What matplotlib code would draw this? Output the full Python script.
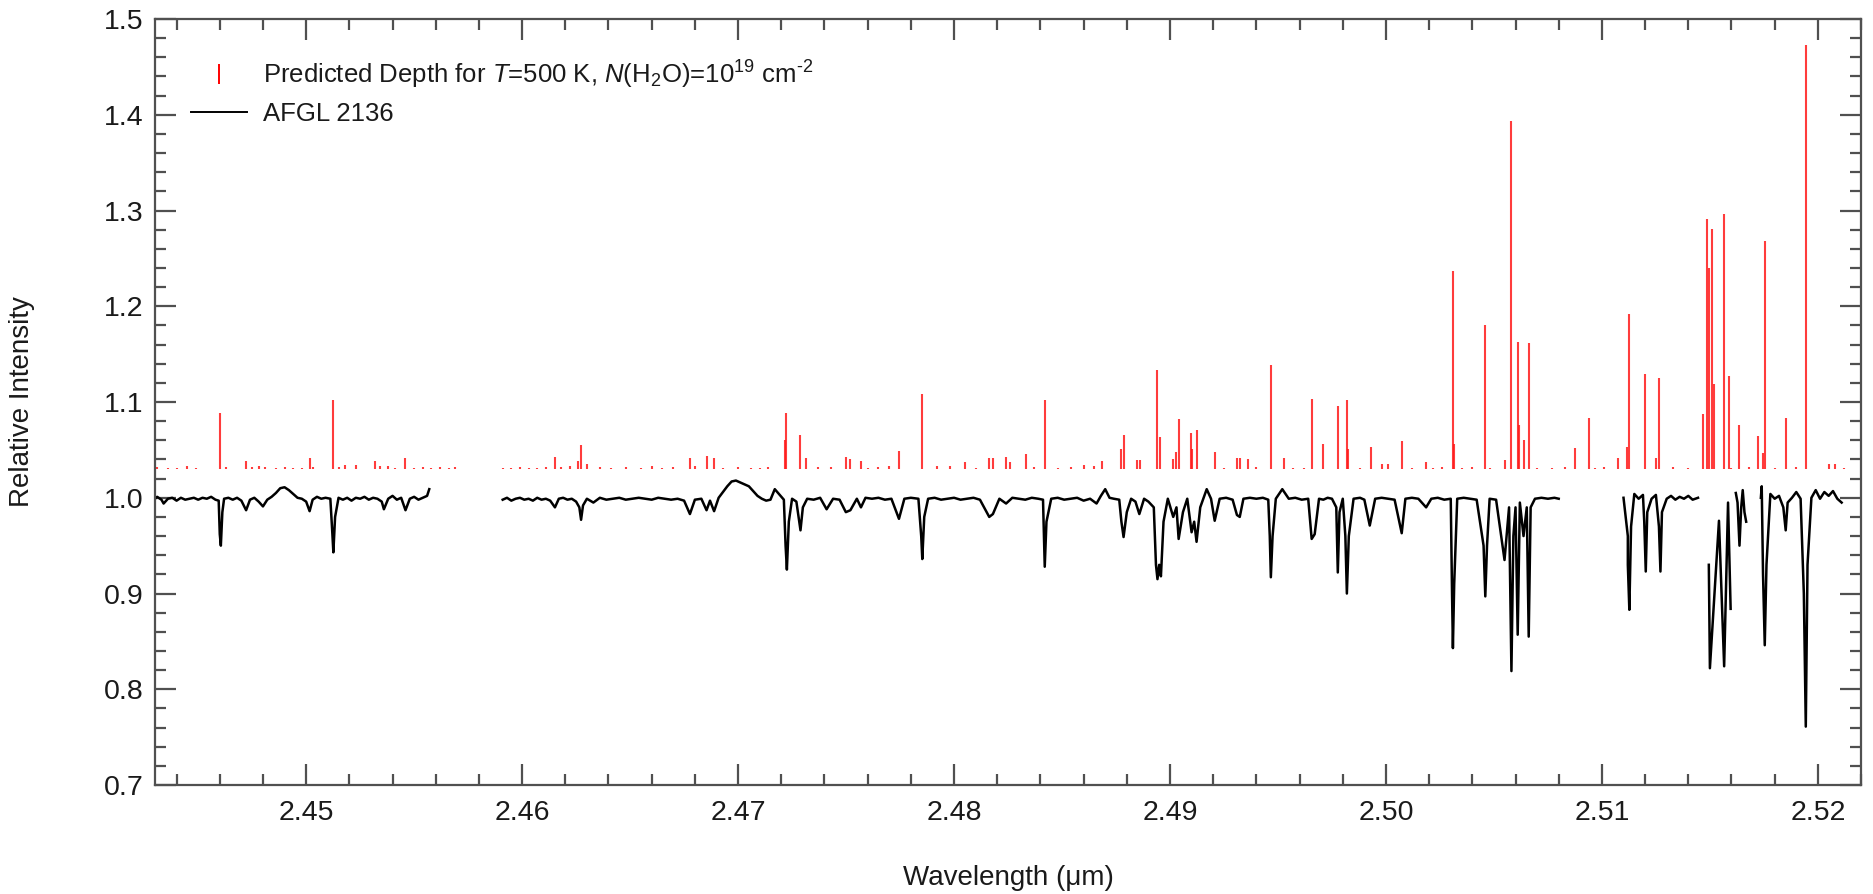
import numpy as np
import matplotlib
matplotlib.use("Agg")
import matplotlib.pyplot as plt
from matplotlib.lines import Line2D
from matplotlib.ticker import MultipleLocator, FormatStrFormatter

plt.rcParams['font.family'] = ['Liberation Sans', 'DejaVu Sans']
plt.rcParams['mathtext.fontset'] = 'custom'
plt.rcParams['mathtext.rm'] = 'Liberation Sans'
plt.rcParams['mathtext.it'] = 'Liberation Sans:italic'

# predicted line positions (um) and top of each red bar (bars start at 1.03)
pred_wl = [2.4431, 2.4436, 2.4440, 2.4445, 2.4449, 2.44603, 2.4463, 2.44722, 2.4475, 2.4478,
           2.4481, 2.4486, 2.4490, 2.4494, 2.4498, 2.45016, 2.4503, 2.45126, 2.4515, 2.45180,
           2.4523, 2.45318, 2.4534, 2.4538, 2.4541, 2.45459, 2.4550, 2.4554, 2.4558, 2.4562,
           2.4566, 2.4569,
           2.4591, 2.4595, 2.4599, 2.4603, 2.4607, 2.4611, 2.46152, 2.4618, 2.4622, 2.46260,
           2.46273, 2.4630, 2.4636, 2.4641, 2.4648, 2.4655, 2.4660, 2.4665, 2.4670, 2.46777,
           2.4680, 2.46854, 2.46889, 2.4693, 2.4700, 2.4706, 2.4710, 2.4714, 2.47215, 2.47220,
           2.47289, 2.47313, 2.4737, 2.4743, 2.47499, 2.4752, 2.47569, 2.4760, 2.4765, 2.4770,
           2.47745, 2.47853, 2.4792, 2.4798, 2.48049, 2.4810, 2.48163, 2.4818, 2.48241, 2.4826,
           2.48334, 2.4837, 2.4842, 2.4848, 2.4854, 2.4860, 2.4865, 2.48683, 2.48775, 2.48785,
           2.48845, 2.4886, 2.48938, 2.48955, 2.49015, 2.4903, 2.4904, 2.4910, 2.49097, 2.49123,
           2.49207, 2.4925, 2.4931, 2.49323, 2.4936, 2.4940, 2.49467, 2.49527, 2.4957, 2.4962,
           2.49656, 2.49708, 2.49777, 2.49819, 2.49825, 2.4988, 2.49929, 2.4998, 2.5001, 2.50073,
           2.5012, 2.50186, 2.5022, 2.5026, 2.5031, 2.50315, 2.5035, 2.5040, 2.5046, 2.5048,
           2.50549, 2.50581, 2.5061, 2.50615, 2.50637, 2.50661, 2.5070, 2.5077, 2.5083, 2.50874,
           2.50939, 2.5097, 2.5101, 2.51074, 2.51116, 2.51125, 2.51201, 2.5125, 2.51265, 2.5133,
           2.5140, 2.51470, 2.51488, 2.51498, 2.51508, 2.51519, 2.51563, 2.51588, 2.5160, 2.51637,
           2.5168, 2.51725, 2.51748, 2.51754, 2.5180, 2.51851, 2.5190, 2.51944, 2.5205, 2.5208,
           2.5212]
pred_top = [1.032, 1.031, 1.031, 1.033, 1.031, 1.089, 1.032, 1.038, 1.032, 1.033,
            1.032, 1.031, 1.032, 1.031, 1.031, 1.042, 1.032, 1.102, 1.032, 1.034,
            1.034, 1.038, 1.033, 1.033, 1.031, 1.042, 1.031, 1.032, 1.031, 1.032,
            1.031, 1.032,
            1.031, 1.031, 1.032, 1.031, 1.031, 1.032, 1.043, 1.032, 1.033, 1.038,
            1.055, 1.035, 1.032, 1.031, 1.032, 1.031, 1.033, 1.031, 1.032, 1.042,
            1.033, 1.044, 1.042, 1.031, 1.032, 1.031, 1.031, 1.032, 1.060, 1.089,
            1.066, 1.042, 1.032, 1.032, 1.043, 1.040, 1.038, 1.031, 1.032, 1.033,
            1.049, 1.108, 1.033, 1.033, 1.037, 1.031, 1.042, 1.042, 1.043, 1.037,
            1.046, 1.032, 1.102, 1.031, 1.032, 1.034, 1.033, 1.038, 1.051, 1.066,
            1.039, 1.039, 1.133, 1.063, 1.041, 1.048, 1.082, 1.051, 1.068, 1.071,
            1.048, 1.031, 1.042, 1.042, 1.040, 1.032, 1.139, 1.042, 1.031, 1.031,
            1.103, 1.056, 1.096, 1.102, 1.051, 1.031, 1.053, 1.035, 1.035, 1.059,
            1.031, 1.037, 1.031, 1.032, 1.237, 1.056, 1.031, 1.032, 1.180, 1.031,
            1.039, 1.394, 1.163, 1.076, 1.060, 1.162, 1.031, 1.031, 1.032, 1.052,
            1.083, 1.031, 1.032, 1.042, 1.053, 1.192, 1.129, 1.042, 1.125, 1.032,
            1.031, 1.088, 1.291, 1.240, 1.281, 1.119, 1.296, 1.127, 1.031, 1.076,
            1.032, 1.065, 1.047, 1.268, 1.031, 1.083, 1.032, 1.473, 1.035, 1.035,
            1.031]
pred_base = 1.03

# AFGL 2136 spectrum, one list pair per continuous stretch
seg1_wl = [2.4430, 2.4431, 2.4433, 2.4434, 2.4436, 2.4438, 2.4440, 2.4442, 2.4444, 2.4446,
           2.4448, 2.4450, 2.4452, 2.4454, 2.4456, 2.4458, 2.44595, 2.44600, 2.44605, 2.44612,
           2.44620, 2.4464, 2.4466, 2.4468, 2.4470, 2.44722, 2.4474, 2.4476, 2.4478, 2.4480,
           2.4482, 2.4484, 2.4486, 2.4488, 2.4490, 2.4492, 2.4494, 2.4496, 2.4498, 2.4500,
           2.45016, 2.4503, 2.4505, 2.4507, 2.4509, 2.45112, 2.45120, 2.45126, 2.45134, 2.4515,
           2.4517, 2.4519, 2.4521, 2.4523, 2.4525, 2.4527, 2.4529, 2.4531, 2.4533, 2.4535,
           2.4536, 2.4538, 2.4540, 2.4542, 2.4544, 2.4546, 2.4548, 2.4550, 2.4552, 2.4554,
           2.4556, 2.4557]
seg1_fl = [0.999, 1.001, 0.998, 0.994, 0.999, 1.000, 0.997, 1.000, 0.998, 0.999,
           1.000, 0.998, 1.000, 0.999, 1.001, 0.998, 0.997, 0.962, 0.950, 0.985,
           0.999, 1.000, 0.998, 1.000, 0.997, 0.987, 0.998, 1.000, 0.996, 0.991,
           0.998, 1.001, 1.005, 1.010, 1.011, 1.008, 1.004, 1.000, 0.999, 0.996,
           0.986, 0.998, 1.001, 0.999, 1.000, 0.999, 0.968, 0.943, 0.980, 1.000,
           0.998, 1.000, 0.997, 1.000, 0.999, 1.001, 0.998, 1.000, 0.999, 0.996,
           0.988, 0.999, 1.002, 0.998, 1.000, 0.987, 0.999, 1.001, 0.998, 1.000,
           1.002, 1.009]

seg2_wl = [2.4591, 2.4593, 2.4595, 2.4597, 2.4599, 2.4601, 2.4603, 2.4605, 2.4607, 2.4609,
           2.4611, 2.4613, 2.46152, 2.4617, 2.4619, 2.4621, 2.4623, 2.4625, 2.46265, 2.46273,
           2.46282, 2.4630, 2.4633, 2.4636, 2.4639, 2.4642, 2.4645, 2.4648, 2.4651, 2.4654,
           2.4657, 2.4660, 2.4663, 2.4666, 2.4669, 2.4672, 2.4675, 2.46777, 2.4680, 2.4683,
           2.46854, 2.4687, 2.46889, 2.4691, 2.4693, 2.4695, 2.4697, 2.4699, 2.4701, 2.4703,
           2.4705, 2.4707, 2.4709, 2.4711, 2.4713, 2.4715, 2.4717, 2.47212, 2.47220, 2.47226,
           2.47235, 2.4725, 2.4727, 2.47289, 2.4730, 2.4732, 2.4735, 2.4738, 2.4741, 2.4744,
           2.4747, 2.47499, 2.4752, 2.4755, 2.47569, 2.4759, 2.4762, 2.4765, 2.4768, 2.4771,
           2.47745, 2.4777, 2.4780, 2.47835, 2.47848, 2.47853, 2.47862, 2.4788, 2.4791, 2.4794,
           2.4797, 2.4800, 2.4803, 2.4806, 2.4809, 2.4812, 2.48163, 2.4818, 2.4821, 2.48241,
           2.4827, 2.4830, 2.4833, 2.4836, 2.4839, 2.48412, 2.48420, 2.48428, 2.4845, 2.4848,
           2.4851, 2.4854, 2.4857, 2.4860, 2.4863, 2.4866, 2.4868, 2.4870, 2.4872, 2.4874,
           2.48765, 2.48775, 2.48785, 2.4880, 2.4882, 2.4884, 2.48858, 2.4888, 2.4890, 2.48925,
           2.48935, 2.48942, 2.48950, 2.48958, 2.4897, 2.4899, 2.49015, 2.4903, 2.4904, 2.4906,
           2.4908, 2.4910, 2.49112, 2.49123, 2.4914, 2.4917, 2.4919, 2.49207, 2.4923, 2.4926,
           2.4929, 2.4931, 2.49323, 2.4934, 2.4937, 2.4940, 2.4943, 2.49455, 2.49462, 2.49467,
           2.49475, 2.4949, 2.4952, 2.4955, 2.4958, 2.4961, 2.4964, 2.49656, 2.4967, 2.4969,
           2.4971, 2.4973, 2.4975, 2.49770, 2.49777, 2.49785, 2.4980, 2.49812, 2.49819, 2.49828,
           2.4985, 2.4988, 2.4990, 2.49925, 2.4995, 2.4998, 2.5001, 2.5004, 2.50073, 2.5009,
           2.5012, 2.5015, 2.50186, 2.5021, 2.5024, 2.5027, 2.5030, 2.50306, 2.50310, 2.50316,
           2.5033, 2.5036, 2.5039, 2.5042, 2.50452, 2.50460, 2.50468, 2.5048, 2.5051, 2.50549,
           2.50570, 2.50581, 2.50590, 2.50600, 2.50610, 2.50620, 2.50637, 2.50652, 2.50661, 2.50670,
           2.5069, 2.5072, 2.5075, 2.5078, 2.5080]
seg2_fl = [0.998, 1.000, 0.997, 0.999, 1.000, 0.998, 0.999, 0.997, 1.000, 0.998,
           0.999, 0.997, 0.990, 0.999, 1.000, 0.998, 0.999, 0.996, 0.990, 0.977,
           0.992, 0.999, 0.995, 1.000, 0.998, 0.999, 1.000, 0.998, 0.999, 1.000,
           0.999, 0.998, 1.000, 0.999, 0.998, 0.999, 0.997, 0.983, 0.998, 0.999,
           0.987, 0.997, 0.986, 1.000, 1.006, 1.012, 1.017, 1.018, 1.016, 1.014,
           1.012, 1.007, 1.002, 0.999, 0.997, 0.998, 1.009, 0.998, 0.950, 0.925,
           0.975, 0.999, 0.996, 0.966, 0.990, 0.999, 0.998, 1.000, 0.988, 0.999,
           0.998, 0.985, 0.987, 0.999, 0.990, 1.000, 0.999, 1.000, 0.998, 0.999,
           0.978, 0.999, 1.000, 0.999, 0.960, 0.936, 0.980, 0.999, 1.000, 0.998,
           0.999, 1.000, 0.998, 0.999, 1.000, 0.998, 0.980, 0.983, 0.999, 0.994,
           1.000, 0.999, 0.998, 1.000, 0.999, 0.998, 0.928, 0.975, 0.999, 1.000,
           0.998, 0.999, 1.000, 0.997, 0.999, 0.994, 1.002, 1.009, 1.000, 0.999,
           0.998, 0.975, 0.959, 0.985, 0.999, 0.996, 0.983, 0.999, 0.996, 0.990,
           0.930, 0.915, 0.930, 0.918, 0.975, 0.999, 0.980, 0.990, 0.957, 0.985,
           0.999, 0.964, 0.975, 0.954, 0.990, 1.009, 0.999, 0.976, 0.999, 1.000,
           0.998, 0.982, 0.980, 0.999, 1.000, 0.999, 1.000, 0.998, 0.960, 0.917,
           0.960, 0.999, 1.009, 0.999, 1.000, 0.998, 0.999, 0.957, 0.962, 0.999,
           0.998, 1.000, 0.999, 0.990, 0.922, 0.985, 0.999, 0.960, 0.900, 0.960,
           0.999, 1.000, 0.998, 0.971, 0.999, 1.000, 0.999, 0.998, 0.963, 0.999,
           1.000, 0.999, 0.990, 0.999, 1.000, 0.998, 0.999, 0.900, 0.843, 0.910,
           0.999, 1.000, 0.999, 0.998, 0.950, 0.897, 0.950, 0.999, 0.998, 0.935,
           0.990, 0.819, 0.960, 0.990, 0.857, 0.995, 0.960, 0.990, 0.855, 0.990,
           0.999, 1.000, 0.999, 1.000, 0.999]

seg3_wl = [2.5110, 2.5112, 2.51120, 2.51127, 2.51135, 2.5115, 2.5117, 2.5119, 2.51196, 2.51203,
           2.51210, 2.5123, 2.5125, 2.51264, 2.51271, 2.51278, 2.5130, 2.5132, 2.5134, 2.5136,
           2.5138, 2.5140, 2.5142, 2.51445]
seg3_fl = [1.000, 0.960, 0.930, 0.883, 0.970, 1.004, 0.999, 1.003, 0.975, 0.923,
           0.985, 0.999, 1.003, 0.970, 0.923, 0.985, 0.999, 1.002, 0.998, 1.001,
           0.999, 1.002, 0.998, 1.000]

seg4_wl = [2.51495, 2.51500, 2.51542, 2.51566, 2.51584, 2.51596]
seg4_fl = [0.930, 0.822, 0.976, 0.824, 0.995, 0.884]

seg5_wl = [2.51620, 2.51628, 2.51637, 2.51645, 2.51652, 2.51660, 2.51668]
seg5_fl = [1.005, 0.995, 0.950, 0.990, 1.008, 0.985, 0.975]

seg6_wl = [2.51736, 2.51740, 2.51746, 2.51754, 2.51762, 2.5178, 2.5180, 2.5182, 2.51840, 2.51851,
           2.51860, 2.5188, 2.5190, 2.5192, 2.51935, 2.51944, 2.51952, 2.5197, 2.5199, 2.5201,
           2.5203, 2.5205, 2.5207, 2.5209, 2.5211]
seg6_fl = [1.000, 1.012, 0.920, 0.846, 0.930, 1.004, 0.999, 1.002, 0.990, 0.966,
           0.995, 1.000, 1.006, 0.999, 0.900, 0.761, 0.930, 1.000, 1.008, 0.999,
           1.006, 1.002, 1.007, 0.999, 0.995]

segments = [(seg1_wl, seg1_fl), (seg2_wl, seg2_fl), (seg3_wl, seg3_fl),
            (seg4_wl, seg4_fl), (seg5_wl, seg5_fl), (seg6_wl, seg6_fl)]

fig = plt.figure(figsize=(18.74, 8.94), dpi=100)
ax = fig.add_axes([0.0827, 0.1219, 0.9104, 0.8568])

ax.vlines(pred_wl, pred_base, pred_top, color='#ff1a1a', lw=1.5, alpha=0.85)
for wl, fl in segments:
    ax.plot(wl, fl, color='black', lw=1.8)

ax.set_xlim(2.4430, 2.5220)
ax.set_ylim(0.7, 1.5)
ax.xaxis.set_major_locator(MultipleLocator(0.01))
ax.xaxis.set_minor_locator(MultipleLocator(0.002))
ax.yaxis.set_major_locator(MultipleLocator(0.1))
ax.yaxis.set_minor_locator(MultipleLocator(0.02))
ax.xaxis.set_major_formatter(FormatStrFormatter('%.2f'))
ax.yaxis.set_major_formatter(FormatStrFormatter('%.1f'))

for s in ax.spines.values():
    s.set_color('#505050')
    s.set_linewidth(1.6)
ax.tick_params(which='both', direction='in', top=True, right=True, color='#505050', width=1.6)
ax.tick_params(which='major', length=15, labelsize=20.5, labelcolor='#1a1a1a')
ax.tick_params(axis='x', which='major', pad=11)
ax.tick_params(axis='y', which='major', pad=8)
ax.tick_params(which='minor', length=8)

ax.set_xlabel('Wavelength (\u03bcm)', fontsize=20, va='center', color='#1a1a1a')
ax.xaxis.set_label_coords(0.5, -0.1214)
ax.set_ylabel('Relative Intensity', fontsize=20, va='center', color='#1a1a1a')
ax.yaxis.set_label_coords(-0.078, 0.5)

handles = [Line2D([], [], color='red', marker='|', linestyle='None', markersize=15, mew=1.4),
           Line2D([], [], color='black', lw=1.4)]
labels = ['Predicted Depth for $T$=500 K, $N$(H$_2$O)=10$^{19}$ cm$^{\u20102}$', 'AFGL 2136']
ax.legend(handles, labels, loc='upper left', bbox_to_anchor=(0.015, 0.962), frameon=False,
          fontsize=18.5, handlelength=2.2, handletextpad=0.6, labelspacing=0.45,
          borderaxespad=0, labelcolor='#1a1a1a')

fig.savefig('out.png', dpi=100)
